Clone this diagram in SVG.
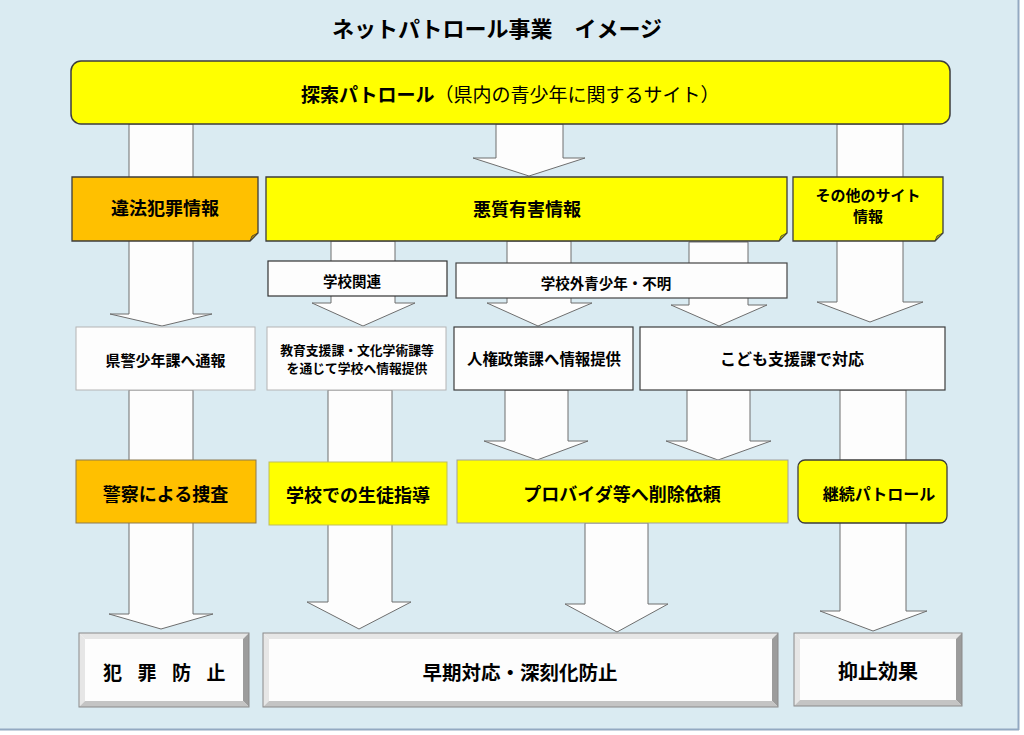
<svg xmlns="http://www.w3.org/2000/svg" width="1024" height="735" viewBox="0 0 1024 735">
<style>
text{font-family:"Noto Sans CJK JP","Noto Sans CJK SC",sans-serif;font-weight:bold;fill:#000;dominant-baseline:central;text-anchor:middle}
.arrow{fill:#FDFDFD;stroke:#6E6E6E;stroke-width:1}
.yel{fill:#FFFF00}
.org{fill:#FFC000}
.dark{stroke:#3C3C3C;stroke-width:1.3}
.wbox{fill:#FDFDFD}
.fold{fill:#B3B300;stroke:#3C3C3C;stroke-width:0.8}
.foldo{fill:#B38700;stroke:#3C3C3C;stroke-width:0.8}
.bface{fill:#FDFDFD}
.blt{fill:#E6E6E6}
.bdk{fill:#9C9C9C}
.bbt{fill:#C4C4C4}
.bout{fill:none;stroke:#8A8A8A;stroke-width:1}
</style>
<rect x="0" y="0" width="1024" height="735" fill="#FFFFFF"/>
<rect x="0" y="0" width="1018" height="729" fill="#DAEBF2"/>
<line x1="1018.5" y1="0" x2="1018.5" y2="730" stroke="#93A9C2" stroke-width="2"/>
<line x1="0" y1="729.5" x2="1019" y2="729.5" stroke="#93A9C2" stroke-width="2"/>

<text id="title" x="497" y="27" font-size="22">ネットパトロール事業　イメージ</text>

<g id="connectors">
<polygon class="arrow" points="129,124 193,124 193,314 212,314 162,326 110,314 129,314"/>
<polygon class="arrow" points="496,124 563,124 563,158 585,158 529,176 473,158 496,158"/>
<polygon class="arrow" points="837,124 903,124 903,302 923,302 870,322 817,302 837,302"/>
<polygon class="arrow" points="331,241 395,241 395,303 415,303 363,326 312,303 331,303"/>
<polygon class="arrow" points="507,241 571,241 571,303 592,303 538,326 487,303 507,303"/>
<polygon class="arrow" points="689,242 748,242 748,305 767,305 719,326 671,305 689,305"/>
<polygon class="arrow" points="129,390 193,390 193,614 213,614 161,629 109,614 129,614"/>
<polygon class="arrow" points="328,390 392,390 392,602 411,602 359,629 307,602 328,602"/>
<polygon class="arrow" points="505,390 568,390 568,441 588,441 537,460 484,441 505,441"/>
<polygon class="arrow" points="687,390 750,390 750,441 771,441 718,460 666,441 687,441"/>
<polygon class="arrow" points="840,390 906,390 906,611 927,611 873,631 820,611 840,611"/>
<polygon class="arrow" points="585,523 648,523 648,604 668,604 617,632 565,604 585,604"/>
</g>

<g id="node-search">
<rect x="71" y="61" width="879" height="63" rx="10" ry="10" class="yel" stroke="#3C3C3C" stroke-width="1.5"/>
<text x="301" y="93" font-size="19" style="text-anchor:start">探索パトロール<tspan font-weight="normal">（県内の青少年に関するサイト）</tspan></text>
</g>

<g id="node-illegal">
<path d="M72,177 H258 V233 L250,241 H72 Z" class="org dark"/>
<path d="M250,241 L258,233 L252,236 Z" class="foldo"/>
<text x="165" y="207" font-size="18">違法犯罪情報</text>
</g>

<g id="node-harmful">
<path d="M266,177 H787 V233 L779,241 H266 Z" class="yel dark"/>
<path d="M779,241 L787,233 L781,236 Z" class="fold"/>
<text x="527" y="208" font-size="18">悪質有害情報</text>
</g>

<g id="node-other">
<path d="M793,177 H943 V233 L935,241 H793 Z" class="yel dark"/>
<path d="M935,241 L943,233 L937,236 Z" class="fold"/>
<text x="868" y="194.5" font-size="15">その他のサイト</text>
<text x="868" y="215.5" font-size="15">情報</text>
</g>

<g id="node-school-related">
<rect x="268" y="261" width="179" height="35" class="wbox" stroke="#333" stroke-width="1.2"/>
<text x="352" y="280" font-size="14.5">学校関連</text>
</g>

<g id="node-outside">
<rect x="456" y="263" width="331" height="35" class="wbox" stroke="#444" stroke-width="1.2"/>
<text x="606" y="282" font-size="14.5">学校外青少年・不明</text>
</g>

<g id="node-police-report">
<rect x="76" y="327" width="179" height="63" class="wbox" stroke="#B4B4B4" stroke-width="1"/>
<text x="165.5" y="359" font-size="15">県警少年課へ通報</text>
</g>

<g id="node-edu">
<rect x="267" y="327" width="179" height="63" class="wbox" stroke="#B4B4B4" stroke-width="1"/>
<text x="357" y="349" font-size="12.8">教育支援課・文化学術課等</text>
<text x="357" y="367" font-size="12.8">を通じて学校へ情報提供</text>
</g>

<g id="node-human-rights">
<rect x="454" y="327" width="179" height="63" class="wbox" stroke="#3C3C3C" stroke-width="1.2"/>
<text x="544" y="358" font-size="15.4">人権政策課へ情報提供</text>
</g>

<g id="node-child">
<rect x="640" y="327" width="305" height="63" class="wbox" stroke="#3C3C3C" stroke-width="1.2"/>
<text x="792" y="358" font-size="16">こども支援課で対応</text>
</g>

<g id="node-investigation">
<rect x="76" y="460" width="180" height="63" class="org" stroke="#8C7A50" stroke-width="1"/>
<text x="165.5" y="493" font-size="18">警察による捜査</text>
</g>

<g id="node-guidance">
<rect x="269" y="462" width="178" height="63" class="yel" stroke="#BDBD60" stroke-width="1"/>
<text x="358" y="494" font-size="18">学校での生徒指導</text>
</g>

<g id="node-provider">
<rect x="457" y="460" width="331" height="63" class="yel" stroke="#A0A0A0" stroke-width="1"/>
<text x="622" y="493" font-size="18">プロバイダ等へ削除依頼</text>
</g>

<g id="node-continue">
<rect x="798" y="460" width="149" height="63" rx="7" ry="7" class="yel" stroke="#3C3C3C" stroke-width="1.3"/>
<text x="879" y="493" font-size="16">継続パトロール</text>
</g>

<g id="node-crime-prevention">
<rect x="79" y="633" width="170" height="74" class="bface"/>
<polygon class="blt" points="79,633 249,633 243,639 85,639"/>
<polygon class="blt" points="79,633 85,639 85,701 79,707"/>
<polygon class="bdk" points="249,633 249,707 243,701 243,639"/>
<polygon class="bbt" points="79,707 249,707 243,701 85,701"/>
<rect x="79" y="633" width="170" height="74" class="bout"/>
<text x="103 122 137.5 156 172 191 206.5" y="671" font-size="19" style="text-anchor:start">犯 罪 防 止</text>
</g>

<g id="node-early">
<rect x="263" y="633" width="515" height="74" class="bface"/>
<polygon class="blt" points="263,633 778,633 772,639 269,639"/>
<polygon class="blt" points="263,633 269,639 269,701 263,707"/>
<polygon class="bdk" points="778,633 778,707 772,701 772,639"/>
<polygon class="bbt" points="263,707 778,707 772,701 269,701"/>
<rect x="263" y="633" width="515" height="74" class="bout"/>
<text x="520" y="671" font-size="19.5">早期対応・深刻化防止</text>
</g>

<g id="node-deterrence">
<rect x="794" y="633" width="168" height="73" class="bface"/>
<polygon class="blt" points="794,633 962,633 956,639 800,639"/>
<polygon class="blt" points="794,633 800,639 800,700 794,706"/>
<polygon class="bdk" points="962,633 962,706 956,700 956,639"/>
<polygon class="bbt" points="794,706 962,706 956,700 800,700"/>
<rect x="794" y="633" width="168" height="73" class="bout"/>
<text x="878" y="670" font-size="20">抑止効果</text>
</g>
</svg>
